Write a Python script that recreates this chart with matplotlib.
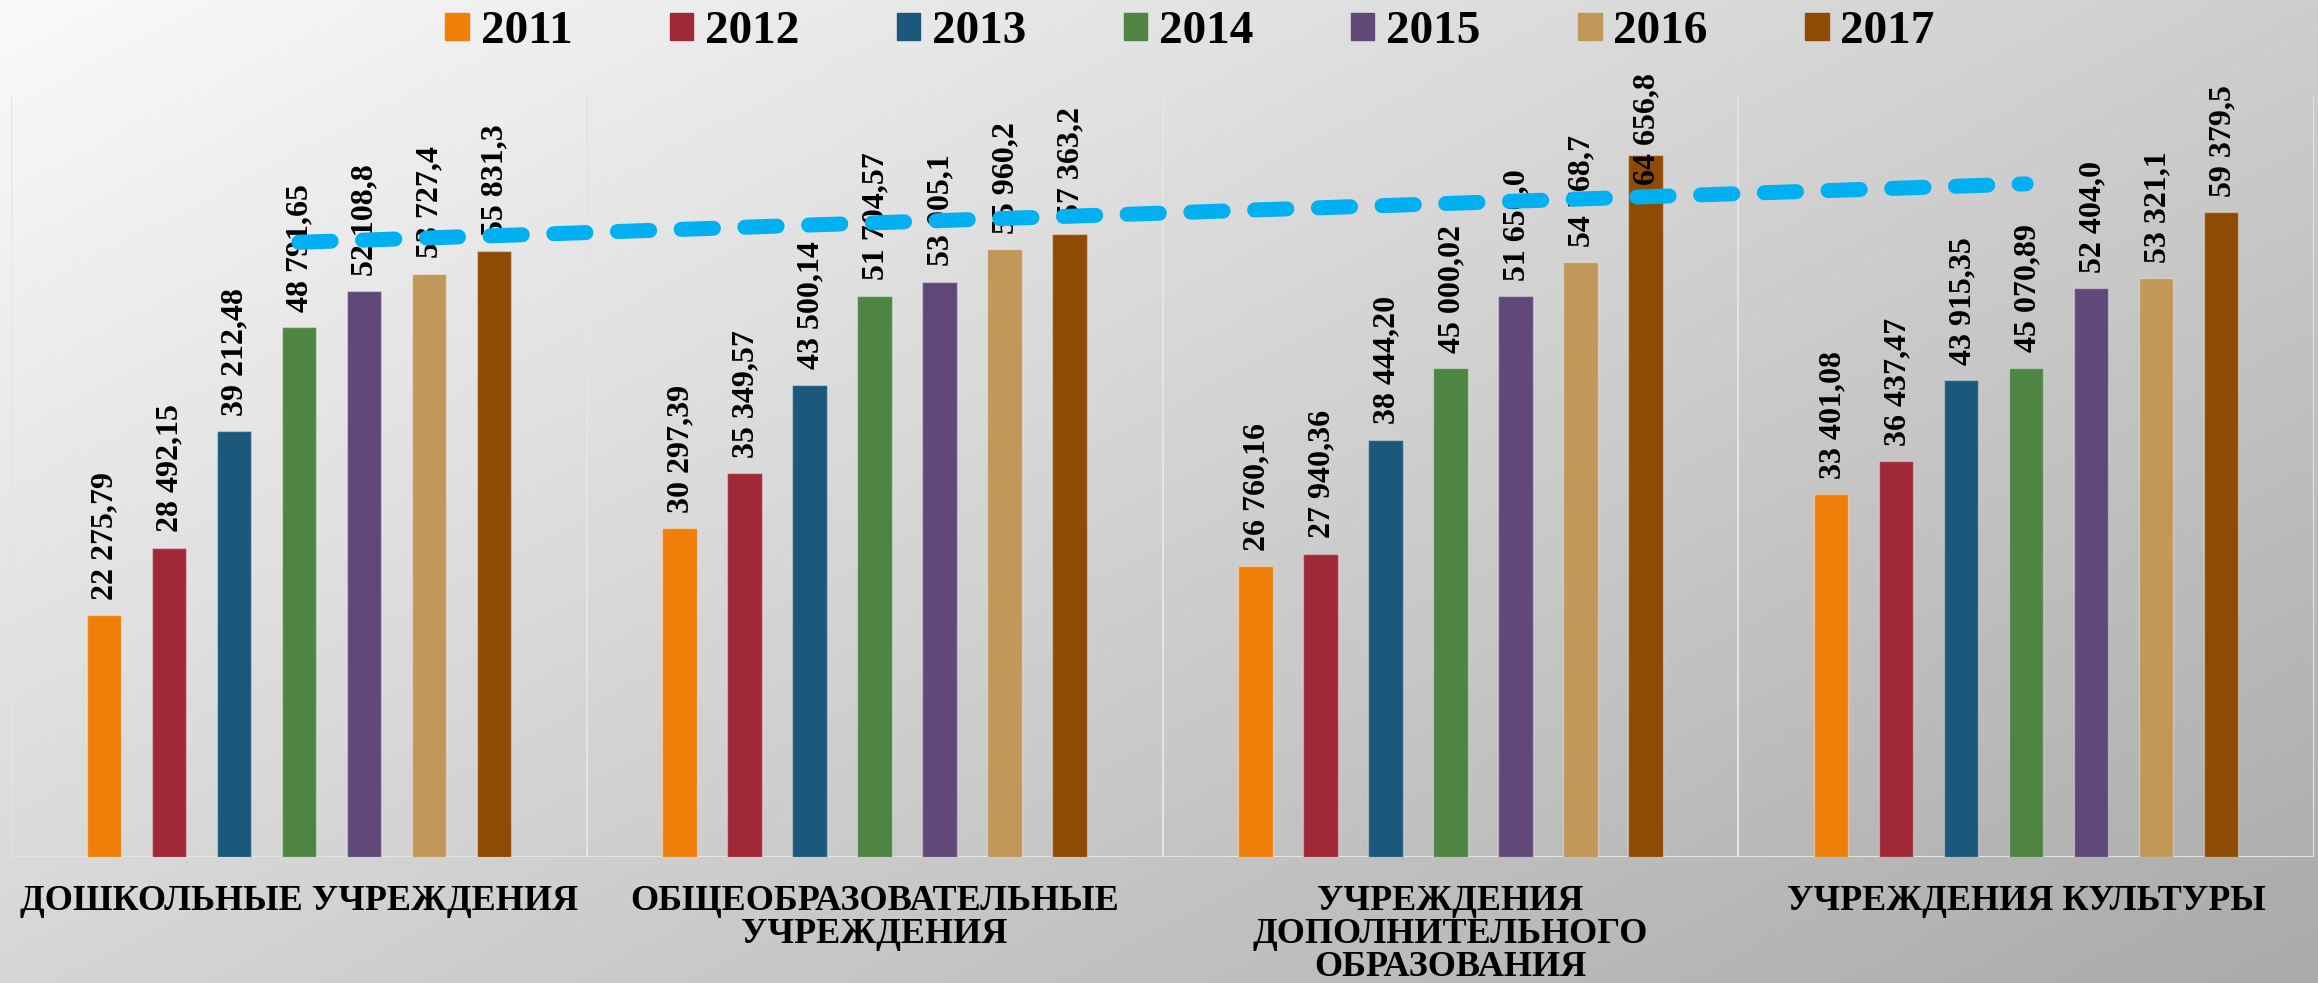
import numpy as np
import matplotlib
matplotlib.use('Agg')
import matplotlib.pyplot as plt
from matplotlib.patches import Patch

# Data
categories = ["ДОШКОЛЬНЫЕ УЧРЕЖДЕНИЯ",
              "ОБЩЕОБРАЗОВАТЕЛЬНЫЕ\nУЧРЕЖДЕНИЯ",
              "УЧРЕЖДЕНИЯ\nДОПОЛНИТЕЛЬНОГО\nОБРАЗОВАНИЯ",
              "УЧРЕЖДЕНИЯ КУЛЬТУРЫ"]
years = ["2011", "2012", "2013", "2014", "2015", "2016", "2017"]
v2011 = [22275.79, 30297.39, 26760.16, 33401.08]
v2012 = [28492.15, 35349.57, 27940.36, 36437.47]
v2013 = [39212.48, 43500.14, 38444.20, 43915.35]
v2014 = [48791.65, 51704.57, 45000.02, 45070.89]
v2015 = [52108.8, 53005.1, 51650.0, 52404.0]
v2016 = [53727.4, 55960.2, 54768.7, 53321.1]
v2017 = [55831.3, 57363.2, 64656.8, 59379.5]
decimals = [2, 2, 2, 2, 1, 1, 1]
series = [v2011, v2012, v2013, v2014, v2015, v2016, v2017]

colors = ["#F07F09", "#9F2936", "#1B587C", "#4E8542", "#604878", "#C19859", "#8E4B04"]
trend_color = "#00B0F0"

FONT = "Liberation Serif"

def fmt(v, d):
    s = f"{v:,.{d}f}"
    return s.replace(",", " ").replace(".", ",")

fig = plt.figure(figsize=(23.18, 9.83), dpi=100)

# Background gradient (light top-left to darker bottom-right)
bg = fig.add_axes([0, 0, 1, 1], zorder=-10)
W, H = 400, 170
xx, yy = np.meshgrid(np.linspace(0, 1, W), np.linspace(0, 1, H))
shade = (250 - 44 * xx - 36 * yy) / 255.0
bg.imshow(np.dstack([shade] * 3), aspect='auto', extent=[0, 1, 0, 1], origin='upper')
bg.axis('off')

ax = fig.add_axes([11 / 2318, 1 - 857 / 983, (2314 - 11) / 2318, (857 - 97) / 983])
ax.patch.set_alpha(0)

x = np.arange(len(categories))
pitch = 0.1129
width = 0.06
labels = []
for i, (vals, col) in enumerate(zip(series, colors)):
    xs = x + (i - 3) * pitch
    ax.bar(xs, vals, width, color=col, edgecolor=(1, 1, 1, 0.35), linewidth=1, zorder=3, label=years[i])
    for xi, v in zip(xs, vals):
        t = ax.annotate(fmt(v, decimals[i]), (xi, v), xytext=(1, 11), textcoords='offset points',
                        rotation=90, ha='center', va='bottom', fontsize=23, fontweight='bold',
                        family=FONT, color='black', zorder=4)
        labels.append(t)

# Linear trendline of the 2017 series
k, b = np.polyfit(x, v2017, 1)
ax.plot([x[0], x[-1]], [k * x[0] + b, k * x[-1] + b], color=trend_color, lw=10.8,
        ls=(0, (2.15, 2.1)), dash_capstyle='round', solid_capstyle='round', zorder=5)

# Separators and baseline
for sx in np.arange(-0.5, len(categories), 1.0):
    ax.axvline(sx, color='#E4E4E4', lw=1.5, zorder=1)
ax.axhline(0, color='#E4E4E4', lw=2.2, zorder=2)

ax.set_xlim(-0.5, len(categories) - 0.5)
ax.set_ylim(0, 70000)
ax.set_yticks([])
ax.set_xticks(x)
ax.set_xticklabels(categories, fontsize=26, fontweight='bold', family=FONT, linespacing=1.0)
ax.tick_params(axis='x', length=0, pad=20)
for sp in ax.spines.values():
    sp.set_visible(False)

handles = [Patch(color=c, label=y) for c, y in zip(colors, years)]
fig.legend(handles=handles, loc='center', bbox_to_anchor=(0.5134, 1 - 32 / 983), ncol=7,
           frameon=False, prop={'family': FONT, 'weight': 'bold', 'size': 34},
           handlelength=0.5, handleheight=0.5, handletextpad=0.25, columnspacing=2.06)

# Labels that run past the top are pulled down into the bar (as the original does)
fig.canvas.draw()
r = fig.canvas.get_renderer()
max_top = fig.bbox.height - 73
for t in labels:
    ext = t.get_window_extent(r)
    if ext.y1 > max_top:
        dx, dy = t.xyann
        t.xyann = (dx, dy - (ext.y1 - max_top) * 72 / fig.dpi)

fig.savefig('out.png', dpi=100)
